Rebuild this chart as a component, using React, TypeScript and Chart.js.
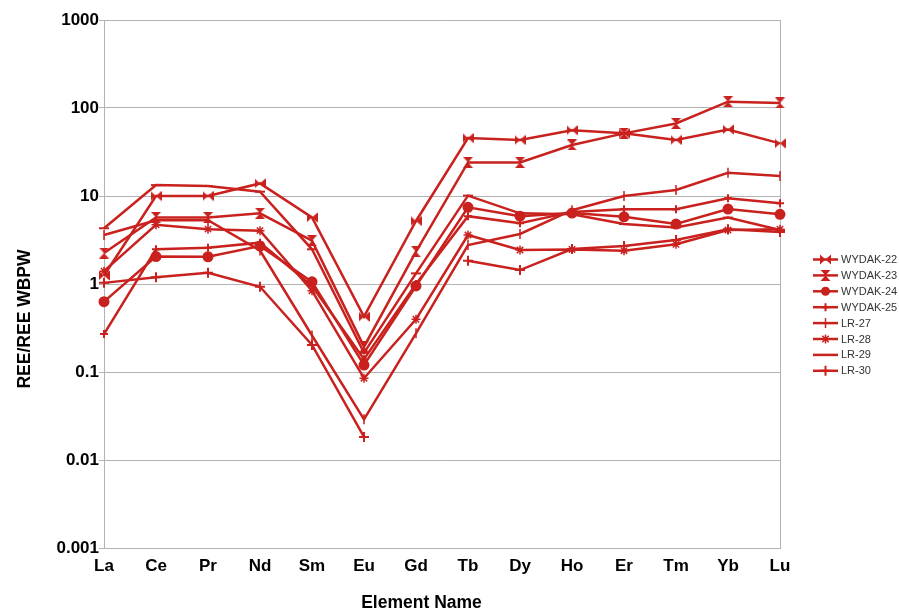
import React, { useEffect, useRef } from "react";
import { Chart, registerables } from "chart.js";

Chart.register(...registerables);

const elements = ["La", "Ce", "Pr", "Nd", "Sm", "Eu", "Gd", "Tb", "Dy", "Ho", "Er", "Tm", "Yb", "Lu"];

const seriesNames = ["WYDAK-22", "WYDAK-23", "WYDAK-24", "WYDAK-25", "LR-27", "LR-28", "LR-29", "LR-30"];

const wydak22 = [1.25, 10, 10, 13.9, 5.7, 0.425, 5.2, 45.6, 43.3, 56, 51.5, 43.3, 57, 39.6];
const wydak23 = [2.25, 5.7, 5.7, 6.35, 3.1, 0.194, 2.33, 24.1, 24.1, 38, 51.5, 66.7, 118, 114];
const wydak24 = [0.63, 2.05, 2.04, 2.7, 1.06, 0.12, 0.95, 7.44, 5.9, 6.4, 5.8, 4.8, 7.1, 6.2];
const wydak25 = [0.27, 2.48, 2.58, 2.95, 0.95, 0.14, 1.0, 5.9, 4.9, 6.6, 7.06, 7.06, 9.4, 8.26];
const lr27 = [3.6, 5.3, 5.3, 2.4, 0.26, 0.029, 0.275, 2.77, 3.7, 6.9, 10.0, 11.7, 18.4, 16.9];
const lr28 = [1.4, 4.7, 4.2, 4.04, 0.84, 0.085, 0.397, 3.6, 2.43, 2.47, 2.39, 2.83, 4.1, 4.2];
const lr29 = [4.3, 13.3, 13.0, 11.2, 2.48, 0.165, 1.32, 10.1, 6.35, 6.2, 4.8, 4.4, 5.68, 4.1];
const lr30 = [1.03, 1.19, 1.34, 0.93, 0.203, 0.0183, null, 1.84, 1.44, 2.5, 2.7, 3.16, 4.18, 3.9];

const seriesValues = [wydak22, wydak23, wydak24, wydak25, lr27, lr28, lr29, lr30];
const markerKinds = ["bowtie", "hourglass", "circle", "plusSmall", "vbar", "star", "dash", "plus"];

const yTicks = [0.001, 0.01, 0.1, 1, 10, 100, 1000];
const yTickLabels = ["0.001", "0.01", "0.1", "1", "10", "100", "1000"];

const yTitle = "REE/REE WBPW";
const xTitle = "Element Name";

const RED = "#C9211E";
const GRID = "#b3b3b3";
const FONT = "'Liberation Sans', Arial, sans-serif";

function makeTriCanvas(kind: string): HTMLCanvasElement {
  const c = document.createElement("canvas");
  const w = 11, h = 11;
  c.width = w; c.height = h;
  const g = c.getContext("2d")!;
  g.fillStyle = RED;
  g.beginPath();
  if (kind === "bowtie") {
    g.moveTo(0, 0.5); g.lineTo(0, h - 0.5); g.lineTo(w / 2, h / 2); g.closePath();
    g.moveTo(w, 0.5); g.lineTo(w, h - 0.5); g.lineTo(w / 2, h / 2); g.closePath();
  } else {
    g.moveTo(0.5, 0); g.lineTo(w - 0.5, 0); g.lineTo(w / 2, h / 2); g.closePath();
    g.moveTo(0.5, h); g.lineTo(w - 0.5, h); g.lineTo(w / 2, h / 2); g.closePath();
  }
  g.fill();
  return c;
}

function drawMarker(ctx: CanvasRenderingContext2D, kind: string, x: number, y: number, imgs: Record<string, HTMLCanvasElement>) {
  ctx.save();
  ctx.strokeStyle = RED;
  ctx.fillStyle = RED;
  ctx.lineWidth = 2;
  ctx.beginPath();
  if (kind === "bowtie" || kind === "hourglass") {
    const im = imgs[kind];
    ctx.drawImage(im, x - im.width / 2, y - im.height / 2);
  } else if (kind === "circle") {
    ctx.arc(x, y, 4.5, 0, Math.PI * 2);
    ctx.fill();
  } else if (kind === "plusSmall" || kind === "plus") {
    const r = kind === "plus" ? 5 : 4;
    ctx.moveTo(x - r, y); ctx.lineTo(x + r, y);
    ctx.moveTo(x, y - r); ctx.lineTo(x, y + r);
    ctx.stroke();
  } else if (kind === "vbar") {
    ctx.lineWidth = 1.5;
    ctx.moveTo(x, y - 5); ctx.lineTo(x, y + 5);
    ctx.stroke();
  } else if (kind === "star") {
    const r = 4.5;
    ctx.lineWidth = 1.5;
    ctx.moveTo(x - r, y); ctx.lineTo(x + r, y);
    ctx.moveTo(x, y - r); ctx.lineTo(x, y + r);
    const d = r * Math.SQRT1_2;
    ctx.moveTo(x - d, y - d); ctx.lineTo(x + d, y + d);
    ctx.moveTo(x - d, y + d); ctx.lineTo(x + d, y - d);
    ctx.stroke();
  }
  ctx.restore();
}

export default function App() {
  const ref = useRef<HTMLCanvasElement | null>(null);

  useEffect(() => {
    document.body.style.margin = "0";
    const canvas = ref.current;
    if (!canvas) return;

    const imgs: Record<string, HTMLCanvasElement> = {
      bowtie: makeTriCanvas("bowtie"),
      hourglass: makeTriCanvas("hourglass"),
    };

    const pointStyleFor = (kind: string): any => {
      switch (kind) {
        case "bowtie": return imgs.bowtie;
        case "hourglass": return imgs.hourglass;
        case "circle": return "circle";
        case "plusSmall": return "cross";
        case "plus": return "cross";
        case "vbar": return "line";
        case "star": return "star";
        case "dash": return "line";
        default: return "circle";
      }
    };
    const radiusFor = (kind: string) => {
      switch (kind) {
        case "circle": return 4.5;
        case "plusSmall": return 4;
        case "plus": return 5;
        case "vbar": return 5;
        case "star": return 4.5;
        case "dash": return 5;
        default: return 5;
      }
    };

    const datasets = seriesNames.map((name, i) => ({
      label: name,
      data: seriesValues[i],
      borderColor: RED,
      backgroundColor: RED,
      borderWidth: 2.5,
      tension: 0,
      spanGaps: false,
      pointStyle: pointStyleFor(markerKinds[i]),
      pointRadius: radiusFor(markerKinds[i]),
      pointRotation: markerKinds[i] === "vbar" ? 90 : 0,
      pointBorderColor: RED,
      pointBackgroundColor: RED,
      pointBorderWidth: markerKinds[i] === "star" || markerKinds[i] === "vbar" ? 1.5 : 2,
    }));

    const customDraw = {
      id: "customDraw",
      afterDraw(chart: any) {
        const ctx: CanvasRenderingContext2D = chart.ctx;
        ctx.save();
        // axis titles
        ctx.fillStyle = "#000";
        ctx.font = `bold 17.5px ${FONT}`;
        ctx.textAlign = "center";
        ctx.textBaseline = "middle";
        ctx.fillText(xTitle, 421.5, 603);
        ctx.save();
        ctx.translate(25, 319);
        ctx.rotate(-Math.PI / 2);
        ctx.fillText(yTitle, 0, 0);
        ctx.restore();
        // legend
        const x0 = 813, x1 = 838;
        seriesNames.forEach((name, i) => {
          const y = 259.5 + i * 15.9;
          ctx.strokeStyle = RED;
          ctx.lineWidth = 2.5;
          ctx.beginPath();
          ctx.moveTo(x0, y);
          ctx.lineTo(x1, y);
          ctx.stroke();
          drawMarker(ctx, markerKinds[i], (x0 + x1) / 2, y, imgs);
          ctx.fillStyle = "#333";
          ctx.font = `11px ${FONT}`;
          ctx.textAlign = "left";
          ctx.textBaseline = "middle";
          ctx.fillText(name, 841, y + 0.5);
        });
        ctx.restore();
      },
    };

    const chart = new Chart(canvas, {
      type: "line",
      data: { labels: elements, datasets: datasets as any },
      plugins: [customDraw],
      options: {
        responsive: false,
        animation: false,
        devicePixelRatio: 1,
        layout: { padding: { top: 20, right: 119, left: 0, bottom: 0 } },
        plugins: {
          legend: { display: false },
          tooltip: { enabled: false },
        },
        scales: {
          x: {
            type: "category",
            offset: false,
            grid: {
              color: (c: any) => (c.index === elements.length - 1 ? GRID : "rgba(0,0,0,0)"),
              drawTicks: false,
              lineWidth: 1,
            },
            border: { color: GRID, width: 1 },
            ticks: {
              font: { family: FONT, size: 17, weight: "bold" },
              color: "#000",
              padding: 8,
              autoSkip: false,
              maxRotation: 0,
            },
            afterFit: (s: any) => { s.height = 62; },
          },
          y: {
            type: "logarithmic",
            min: 0.001,
            max: 1000,
            afterBuildTicks: (s: any) => { s.ticks = yTicks.map((v) => ({ value: v })); },
            ticks: {
              callback: (_v: any, i: number) => yTickLabels[i],
              font: { family: FONT, size: 17, weight: "bold" },
              color: "#000",
              padding: 0,
              autoSkip: false,
            },
            grid: { color: GRID, tickLength: 5, lineWidth: 1 },
            border: { color: GRID, width: 1 },
            afterFit: (s: any) => { s.width = 104; },
          },
        },
      } as any,
    });

    return () => chart.destroy();
  }, []);

  return (
    <div style={{ width: 899, height: 610 }}>
      <canvas ref={ref} width={899} height={610} style={{ display: "block" }} />
    </div>
  );
}
